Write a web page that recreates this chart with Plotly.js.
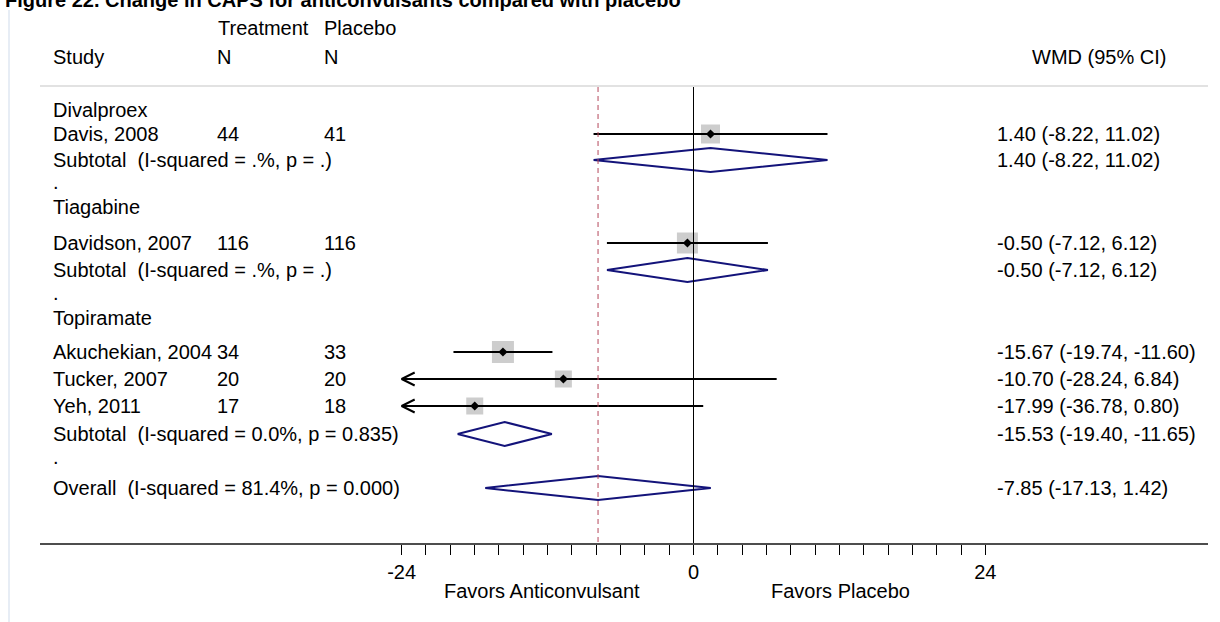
<!DOCTYPE html>
<html><head><meta charset="utf-8">
<script src="https://cdn.plot.ly/plotly-3.0.1.min.js"></script>
<style>html,body{margin:0;padding:0;background:#fff;} #chart{width:1220px;height:622px;}</style>
</head><body><div id="chart"></div>
<script>
// ---------- data ----------
const groups = ["Divalproex", "Tiagabine", "Topiramate"];
const studies = ["Davis, 2008", "Davidson, 2007", "Akuchekian, 2004", "Tucker, 2007", "Yeh, 2011"];
const treatN = [44, 116, 34, 20, 17];
const placeboN = [41, 116, 33, 20, 18];
const wmd = [1.40, -0.50, -15.67, -10.70, -17.99];
const ciLow = [-8.22, -7.12, -19.74, -28.24, -36.78];
const ciHigh = [11.02, 6.12, -11.60, 6.84, 0.80];
const subLabels = ["Subtotal  (I-squared = .%, p = .)", "Subtotal  (I-squared = .%, p = .)", "Subtotal  (I-squared = 0.0%, p = 0.835)"];
const subWmd = [1.40, -0.50, -15.53];
const subLow = [-8.22, -7.12, -19.40];
const subHigh = [11.02, 6.12, -11.65];
const overallLabel = "Overall  (I-squared = 81.4%, p = 0.000)";
const overallWmd = [-7.85];
const overallLow = [-17.13];
const overallHigh = [1.42];
const tickVals = [-24, -22, -20, -18, -16, -14, -12, -10, -8, -6, -4, -2, 0, 2, 4, 6, 8, 10, 12, 14, 16, 18, 20, 22, 24];
const tickLabelVals = [-24, 0, 24];
const xLabels = ["Favors Anticonvulsant", "Favors Placebo"];
const titleText = "Figure 22. Change in CAPS for anticonvulsants compared with placebo";

// ---------- layout constants (pixel rows, sizes) ----------
const groupRowY = [110, 207, 318];
const studyRowY = [134, 243, 352, 379, 406];
const subRowY = [160, 270, 434];
const dotRowY = [182, 293, 457];
const overallRowY = 488;
const boxSize = [19, 21, 22, 17, 17];
const clipMin = -24;           // left limit of the drawn scale
const arrowLen = 1.07, arrowHalf = 6.5, diaHalf = 12;

const W = 1220, H = 622, L = 40, R = 1208, B = 543;
const px = X => (X - L) / (R - L);
const py = Y => (B - Y) / B;
const FONT = "Arial, 'Liberation Sans', sans-serif";
const FS = 20;
const fmt = v => v.toFixed(2);

// ---------- traces ----------
const ciX = [], ciY = [], arX = [], arY = [];
studies.forEach((s, i) => {
  const lo = Math.max(ciLow[i], clipMin);
  ciX.push(lo, ciHigh[i], null); ciY.push(studyRowY[i], studyRowY[i], null);
  if (ciLow[i] < clipMin) {
    arX.push(clipMin + arrowLen, clipMin, clipMin + arrowLen, null);
    arY.push(studyRowY[i] - arrowHalf, studyRowY[i], studyRowY[i] + arrowHalf, null);
  }
});
const dX = [], dY = [];
function addDiamond(est, lo, hi, y) {
  dX.push(lo, est, hi, est, lo, null);
  dY.push(y, y - diaHalf, y, y + diaHalf, y, null);
}
subWmd.forEach((e, i) => addDiamond(e, subLow[i], subHigh[i], subRowY[i]));
addDiamond(overallWmd[0], overallLow[0], overallHigh[0], overallRowY);

const traces = [
  {x: wmd, y: studyRowY, type: 'scatter', mode: 'markers', hoverinfo: 'skip',
   marker: {symbol: 'square', size: boxSize, color: '#b8b8b8', line: {width: 0}}},
  {x: ciX, y: ciY, type: 'scatter', mode: 'lines', hoverinfo: 'skip',
   line: {color: '#000', width: 2}},
  {x: arX, y: arY, type: 'scatter', mode: 'lines', hoverinfo: 'skip',
   line: {color: '#000', width: 2}},
  {x: wmd, y: studyRowY, type: 'scatter', mode: 'markers', hoverinfo: 'skip',
   marker: {symbol: 'diamond', size: 7, color: '#000'}},
  {x: dX, y: dY, type: 'scatter', mode: 'lines', hoverinfo: 'skip',
   line: {color: '#13137a', width: 2}}
];

// ---------- annotations ----------
const ann = [];
function txt(X, Y, t, opts) {
  ann.push(Object.assign({xref: 'paper', yref: 'paper', x: px(X), y: py(Y), text: t,
    showarrow: false, xanchor: 'left', yanchor: 'middle',
    font: {family: FONT, size: FS, color: '#000'}}, opts || {}));
}
const xStudy = 51, xTN = 215, xPN = 322, xCI = 995;
txt(3, 0, '<b>' + titleText + '</b>');
txt(216, 28, 'Treatment');
txt(321.5, 28, 'Placebo');
txt(xStudy, 57, 'Study');
txt(xTN, 57, 'N');
txt(xPN, 57, 'N');
txt(1030, 57, 'WMD (95% CI)');
groups.forEach((g, gi) => {
  txt(xStudy, groupRowY[gi], g);
  txt(xStudy, subRowY[gi], subLabels[gi]);
  txt(xCI, subRowY[gi], fmt(subWmd[gi]) + ' (' + fmt(subLow[gi]) + ', ' + fmt(subHigh[gi]) + ')');
  txt(xStudy, dotRowY[gi], '.');
});
studies.forEach((s, i) => {
  txt(xStudy, studyRowY[i], s);
  txt(xTN, studyRowY[i], String(treatN[i]));
  txt(xPN, studyRowY[i], String(placeboN[i]));
  txt(xCI, studyRowY[i], fmt(wmd[i]) + ' (' + fmt(ciLow[i]) + ', ' + fmt(ciHigh[i]) + ')');
});
txt(xStudy, overallRowY, overallLabel);
txt(xCI, overallRowY, fmt(overallWmd[0]) + ' (' + fmt(overallLow[0]) + ', ' + fmt(overallHigh[0]) + ')');
// axis direction labels
ann.push({xref: 'x', yref: 'paper', x: -12.5, y: py(591), text: xLabels[0], showarrow: false,
  xanchor: 'center', yanchor: 'middle', font: {family: FONT, size: FS, color: '#000'}});
ann.push({xref: 'x', yref: 'paper', x: 12.1, y: py(591), text: xLabels[1], showarrow: false,
  xanchor: 'center', yanchor: 'middle', font: {family: FONT, size: FS, color: '#000'}});

// ---------- shapes ----------
const shapes = [
  {type: 'line', xref: 'paper', yref: 'paper', x0: px(9), x1: px(9), y0: py(10), y1: py(622),
   line: {color: '#e7edf5', width: 2}},
  {type: 'line', xref: 'paper', yref: 'y', x0: 0, x1: 1, y0: 86, y1: 86,
   line: {color: '#d9d9d9', width: 1.5}},
  {type: 'line', xref: 'x', yref: 'y', x0: 0, x1: 0, y0: 87, y1: B,
   line: {color: '#000', width: 1}},
  {type: 'line', xref: 'x', yref: 'y', x0: overallWmd[0], x1: overallWmd[0], y0: 87, y1: B,
   line: {color: '#b4475a', width: 1, dash: '5px,4px'}}
];

const ticktext = tickVals.map(v => tickLabelVals.includes(v) ? String(v) : '');

const layout = {
  width: W, height: H, paper_bgcolor: '#fff', plot_bgcolor: '#fff',
  margin: {l: L, r: W - R, t: 0, b: H - B, pad: 0},
  showlegend: false,
  font: {family: FONT, size: FS, color: '#000'},
  xaxis: {range: [(L - 693.5) / 12.16, (R - 693.5) / 12.16], showgrid: false, zeroline: false,
    showline: true, linecolor: '#4d4d4d', linewidth: 1.5, ticks: 'outside', ticklen: 10,
    tickwidth: 1, tickcolor: '#000', tickvals: tickVals, ticktext: ticktext,
    tickfont: {family: FONT, size: FS, color: '#000'}, fixedrange: true},
  yaxis: {range: [B, 0], visible: false, fixedrange: true},
  annotations: ann, shapes: shapes
};
Plotly.newPlot('chart', traces, layout, {staticPlot: true, displayModeBar: false});
</script></body></html>
